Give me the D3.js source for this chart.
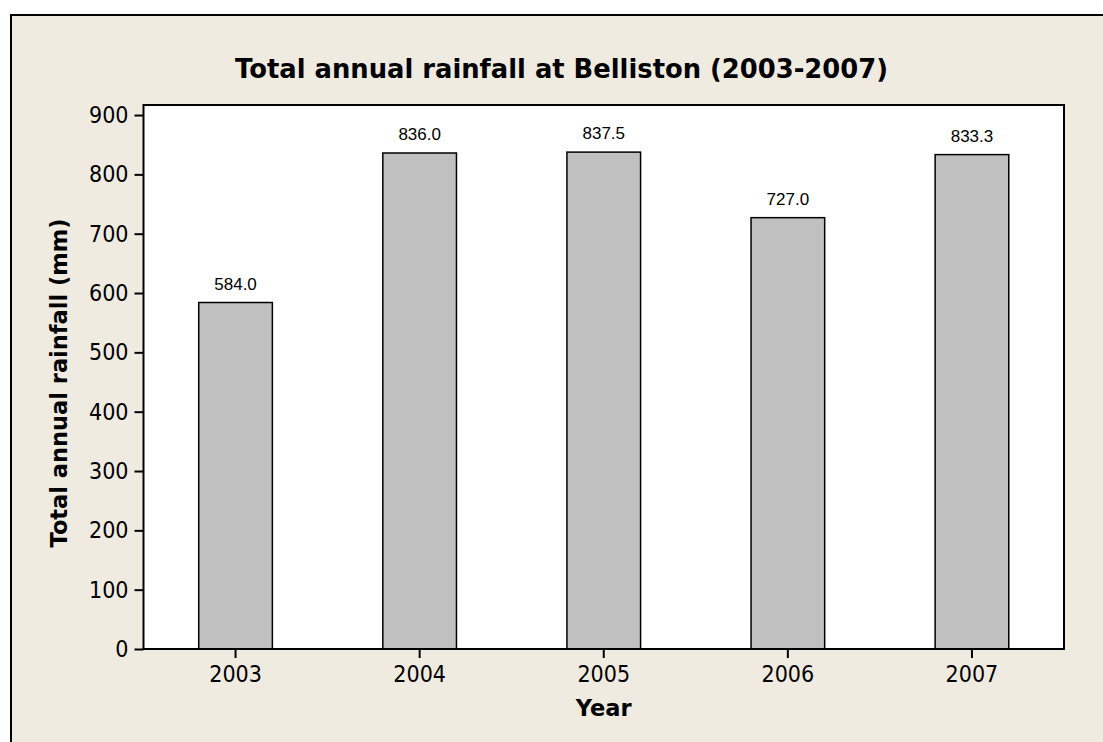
<!DOCTYPE html>
<html>
<head>
<meta charset="utf-8">
<script src="https://cdn.jsdelivr.net/npm/d3@7"></script>
<style>
    body { margin: 0; background: #ffffff; }
    svg { display: block; }
</style>
</head>
<body>
<div id="chart"></div>
<script>
// Data
const years = ["2003", "2004", "2005", "2006", "2007"];
const rainfall = [584.0, 836.0, 837.5, 727.0, 833.3];
const yTicks = [0, 100, 200, 300, 400, 500, 600, 700, 800, 900];

const W = 1103, H = 742;
const plot = { left: 143.5, right: 1064, top: 105, bottom: 649 };
const tickFont = "'DejaVu Sans Condensed', 'DejaVu Sans', sans-serif";
const labelFont = "'DejaVu Sans', sans-serif";

const svg = d3.select("#chart")
    .append("svg")
    .attr("width", W)
    .attr("height", H);

// Graph region with its frame (right and bottom edges fall outside the picture)
const frame = { left: 11, top: 15, right: 1112 };
svg.append("rect")
    .attr("x", frame.left).attr("y", frame.top)
    .attr("width", W).attr("height", H)
    .attr("fill", "#efebe1")
    .attr("stroke", "#000")
    .attr("stroke-width", 2);

// Scales
const x = d3.scaleBand()
    .domain(years)
    .range([plot.left, plot.right])
    .paddingInner(0.6)
    .paddingOuter(0.3);

const y = d3.scaleLinear()
    .domain([0, 900])
    .range([plot.bottom, plot.bottom - 900 * 0.5933]);

// Plot area
svg.append("rect")
    .attr("x", plot.left).attr("y", plot.top)
    .attr("width", plot.right - plot.left)
    .attr("height", plot.bottom - plot.top)
    .attr("fill", "#fff");

// Bars
svg.selectAll(".bar")
    .data(rainfall)
    .enter().append("rect")
    .attr("class", "bar")
    .attr("x", (d, i) => x(years[i]))
    .attr("y", d => y(d))
    .attr("width", x.bandwidth())
    .attr("height", d => y(0) - y(d))
    .attr("fill", "#c0c0c0")
    .attr("stroke", "#000")
    .attr("stroke-width", 1.5);

// Value labels
svg.selectAll(".val")
    .data(rainfall)
    .enter().append("text")
    .attr("class", "val")
    .attr("x", (d, i) => x(years[i]) + x.bandwidth() / 2)
    .attr("y", d => y(d) - 13)
    .attr("text-anchor", "middle")
    .style("font-family", "'Liberation Sans', Arial, sans-serif")
    .style("font-size", "17px")
    .style("fill", "#000")
    .text(d => d.toFixed(1));

// Plot frame
svg.append("rect")
    .attr("x", plot.left).attr("y", plot.top)
    .attr("width", plot.right - plot.left)
    .attr("height", plot.bottom - plot.top)
    .attr("fill", "none")
    .attr("stroke", "#000")
    .attr("stroke-width", 2);

// Axes
const yAxis = svg.append("g")
    .attr("transform", `translate(${plot.left},0)`)
    .call(d3.axisLeft(y).tickValues(yTicks).tickSize(9).tickPadding(6).tickFormat(d3.format("d")));

const xAxis = svg.append("g")
    .attr("transform", `translate(0,${plot.bottom})`)
    .call(d3.axisBottom(x).tickSize(9).tickPadding(8));

[yAxis, xAxis].forEach(g => {
    g.select(".domain").remove();
    g.selectAll("line").attr("stroke", "#000").attr("stroke-width", 2);
    g.selectAll("text")
        .style("font-family", tickFont)
        .style("font-size", "23px")
        .style("fill", "#000");
});

// Title, centred on the whole graph region
svg.append("text")
    .attr("x", (frame.left + frame.right) / 2)
    .attr("y", 78)
    .attr("text-anchor", "middle")
    .style("font-family", labelFont)
    .style("font-weight", "bold")
    .style("font-size", "25.8px")
    .text("Total annual rainfall at Belliston (2003-2007)");

// Axis titles
svg.append("text")
    .attr("transform", `translate(67, ${(plot.top + plot.bottom) / 2 + 6}) rotate(-90)`)
    .attr("text-anchor", "middle")
    .style("font-family", labelFont)
    .style("font-weight", "bold")
    .style("font-size", "22.5px")
    .text("Total annual rainfall (mm)");

svg.append("text")
    .attr("x", (plot.left + plot.right) / 2)
    .attr("y", 716)
    .attr("text-anchor", "middle")
    .style("font-family", labelFont)
    .style("font-weight", "bold")
    .style("font-size", "22.5px")
    .text("Year");
</script>
</body>
</html>
